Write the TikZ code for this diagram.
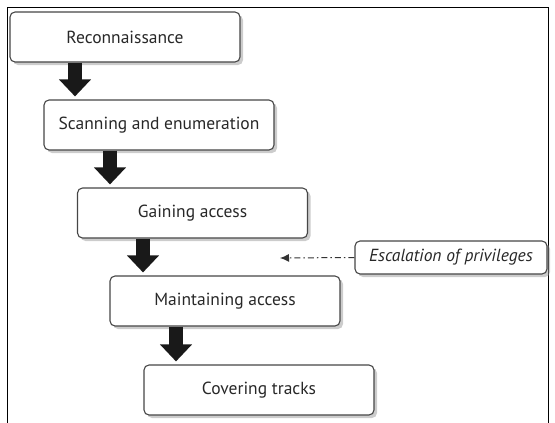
\documentclass[tikz,border=0pt]{standalone}
\usepackage{fontspec}
\setmainfont{PT Sans}
\usetikzlibrary{arrows.meta,shadows}

\definecolor{boxline}{RGB}{70,70,70}
\definecolor{inkgray}{RGB}{40,40,40}

\tikzset{
  phase/.style={draw=boxline, line width=1.1pt, rounded corners=5pt, fill=white,
    minimum width=230pt, minimum height=50pt, text=inkgray, font=\fontsize{17.5}{19}\selectfont,
    drop shadow={shadow xshift=3pt, shadow yshift=-3pt, fill=black!40}},
  note/.style={draw=boxline, line width=1.1pt, rounded corners=5pt, fill=white,
    minimum width=192pt, minimum height=33pt, text=inkgray, font=\fontsize{17.5}{19}\selectfont\itshape,
    drop shadow={shadow xshift=3pt, shadow yshift=-3pt, fill=black!40}},
  fat/.style={draw=black!90, line width=14pt, shorten >=3pt,
    -{Triangle[length=17pt, width=31pt]}},
  hint/.style={draw=black!80, line width=1pt, dash pattern=on 6pt off 3pt on 1.5pt off 3pt,
    -{Latex[length=9pt, width=8pt]}}
}

\begin{document}
\begin{tikzpicture}[x=1pt, y=-1pt]
      \useasboundingbox (0,0) rectangle (555,423);
      \draw[line width=0.8pt] (7,7) rectangle (548,423);

      \node[phase] (recon) at (125,37)   {Reconnaissance};
      \node[phase] (scan)  at (159,125)  {Scanning and enumeration};
      \node[phase] (gain)  at (192.5,213) {Gaining access};
      \node[phase] (keep)  at (225,301)  {Maintaining access};
      \node[phase] (cover) at (259,390)  {Covering tracks};

      \node[note] (escal) at (451,257.5) {Escalation of privileges};
      \coordinate (escend) at (280,258);

      \draw[fat] ([xshift=-50pt]recon.south) -- ([xshift=-50pt]recon.south |- scan.north);
      \draw[fat] ([xshift=-49pt]scan.south)  -- ([xshift=-49pt]scan.south |- gain.north);
      \draw[fat] ([xshift=-49.5pt]gain.south) -- ([xshift=-49.5pt]gain.south |- keep.north);
      \draw[fat] ([xshift=-49pt]keep.south)  -- ([xshift=-49pt]keep.south |- cover.north);

      \draw[hint] (escal.west) -- (escend);
\end{tikzpicture}
\end{document}
